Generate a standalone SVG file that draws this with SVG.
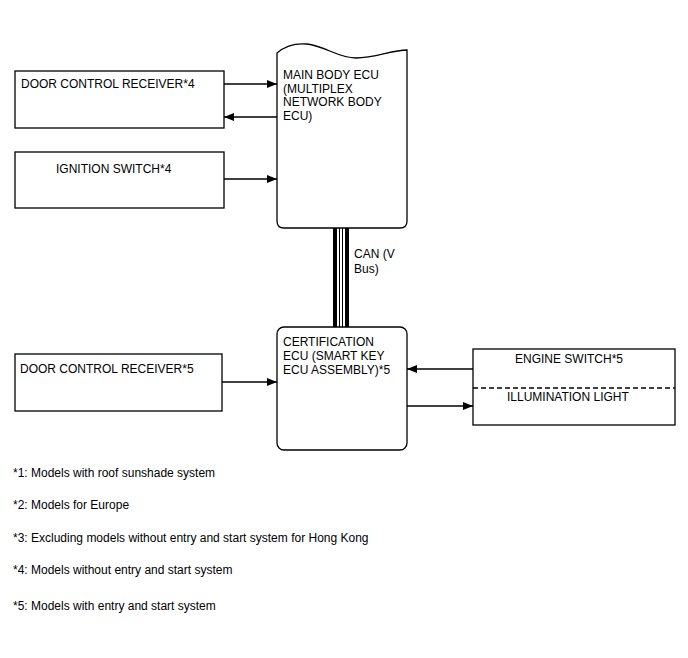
<svg xmlns="http://www.w3.org/2000/svg" width="688" height="658" viewBox="0 0 688 658">
<defs>
<style>
.box{fill:#fff;stroke:#000;stroke-width:1.3}
.t{font-family:"Liberation Sans",Arial,sans-serif;font-size:12px;fill:#000}
.ln{stroke:#000;stroke-width:1.3;fill:none}
</style>
<marker id="ah" markerWidth="10" markerHeight="8" refX="10" refY="4" orient="auto" markerUnits="userSpaceOnUse">
<path d="M0,0 L10,4 L0,8 Z" fill="#000"/>
</marker>
</defs>
<rect width="688" height="658" fill="#fff"/>

<g id="main-body-ecu">
<path class="box" d="M277,53 C285,46 295,43 307,44 C325,46 338,58 356,58 C375,58 392,50 407,50 L407,221 Q407,228 400,228 L284,228 Q277,228 277,221 Z"/>
<text class="t" x="283" y="79">MAIN BODY ECU</text>
<text class="t" x="283" y="92.5">(MULTIPLEX</text>
<text class="t" x="283" y="106">NETWORK BODY</text>
<text class="t" x="283" y="119.5">ECU)</text>
</g>

<g id="door-control-receiver-4">
<rect class="box" x="15" y="71" width="209" height="57"/>
<text class="t" x="21" y="88">DOOR CONTROL RECEIVER*4</text>
</g>

<g id="ignition-switch-4">
<rect class="box" x="15" y="152" width="209" height="56"/>
<text class="t" x="56" y="173">IGNITION SWITCH*4</text>
</g>

<g id="certification-ecu">
<rect class="box" x="277" y="327" width="130" height="123" rx="7" ry="7"/>
<text class="t" x="283" y="346">CERTIFICATION</text>
<text class="t" x="283" y="360">ECU (SMART KEY</text>
<text class="t" x="283" y="374">ECU ASSEMBLY)*5</text>
</g>

<g id="door-control-receiver-5">
<rect class="box" x="15" y="354" width="207" height="57"/>
<text class="t" x="20" y="373">DOOR CONTROL RECEIVER*5</text>
</g>

<g id="engine-switch-illumination">
<rect class="box" x="473" y="349" width="202" height="76"/>
<line x1="473" y1="388" x2="675" y2="388" stroke="#000" stroke-width="1.3" stroke-dasharray="5,3"/>
<text class="t" x="515" y="363">ENGINE SWITCH*5</text>
<text class="t" x="507" y="401">ILLUMINATION LIGHT</text>
</g>

<g id="connectors">
<line class="ln" x1="224" y1="84" x2="277" y2="84" marker-end="url(#ah)"/>
<line class="ln" x1="277" y1="117" x2="224" y2="117" marker-end="url(#ah)"/>
<line class="ln" x1="224" y1="179" x2="277" y2="179" marker-end="url(#ah)"/>
<line class="ln" x1="222" y1="382" x2="277" y2="382" marker-end="url(#ah)"/>
<line class="ln" x1="473" y1="369" x2="407" y2="369" marker-end="url(#ah)"/>
<line class="ln" x1="407" y1="406" x2="473" y2="406" marker-end="url(#ah)"/>
<g id="can-bus">
<rect x="333" y="228" width="4" height="99" fill="#000"/>
<rect x="339" y="228" width="1" height="99" fill="#000"/>
<rect x="342" y="228" width="1" height="99" fill="#000"/>
<rect x="345" y="228" width="4" height="99" fill="#000"/>
<text class="t" x="354" y="258">CAN (V</text>
<text class="t" x="354" y="273">Bus)</text>
</g>
</g>

<g id="footnotes">
<text class="t" x="13" y="477">*1: Models with roof sunshade system</text>
<text class="t" x="13" y="509">*2: Models for Europe</text>
<text class="t" x="13" y="542">*3: Excluding models without entry and start system for Hong Kong</text>
<text class="t" x="13" y="574">*4: Models without entry and start system</text>
<text class="t" x="13" y="610">*5: Models with entry and start system</text>
</g>
</svg>
